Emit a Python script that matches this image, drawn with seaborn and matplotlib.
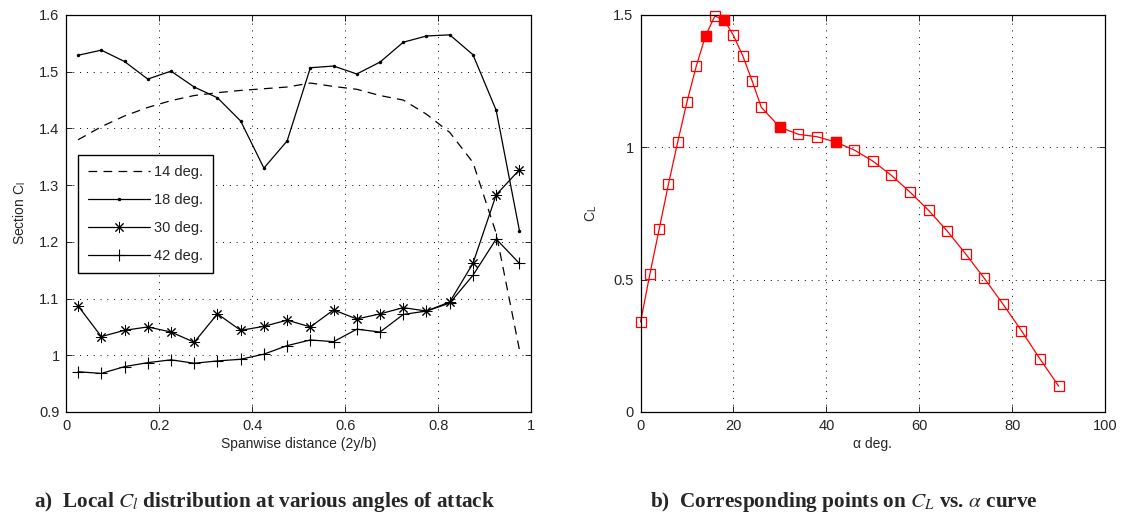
import matplotlib
matplotlib.use("Agg")
import matplotlib.pyplot as plt
import pandas as pd
import seaborn as sns

# ── data ────────────────────────────────────────────────────────────────
span = [0.025, 0.075, 0.125, 0.175, 0.225, 0.275, 0.325, 0.375, 0.425, 0.475,
        0.525, 0.575, 0.625, 0.675, 0.725, 0.775, 0.825, 0.875, 0.925, 0.975]

cl_14 = [1.380, 1.403, 1.422, 1.437, 1.449, 1.458, 1.463, 1.467, 1.470, 1.473,
         1.480, 1.474, 1.469, 1.458, 1.450, 1.425, 1.393, 1.340, 1.215, 1.010]
cl_18 = [1.529, 1.538, 1.518, 1.487, 1.501, 1.473, 1.454, 1.413, 1.330, 1.378,
         1.507, 1.510, 1.496, 1.517, 1.552, 1.563, 1.565, 1.530, 1.432, 1.220]
cl_30 = [1.087, 1.033, 1.044, 1.050, 1.041, 1.023, 1.073, 1.044, 1.051, 1.062,
         1.050, 1.080, 1.064, 1.073, 1.084, 1.078, 1.094, 1.162, 1.283, 1.327]
cl_42 = [0.971, 0.968, 0.980, 0.987, 0.992, 0.986, 0.990, 0.993, 1.002, 1.017,
         1.027, 1.024, 1.046, 1.041, 1.072, 1.078, 1.092, 1.141, 1.205, 1.162]

alpha = [0, 2, 4, 6, 8, 10, 12, 14, 16, 18, 20, 22, 24, 26, 30, 34, 38, 42,
         46, 50, 54, 58, 62, 66, 70, 74, 78, 82, 86, 90]
cl_curve = [0.34, 0.52, 0.69, 0.86, 1.02, 1.172, 1.307, 1.422, 1.496, 1.481,
            1.423, 1.346, 1.252, 1.151, 1.076, 1.049, 1.040, 1.020, 0.990, 0.948,
            0.894, 0.831, 0.762, 0.684, 0.597, 0.505, 0.408, 0.307, 0.200, 0.098]

picked_alpha = [14, 18, 30, 42]
picked_cl = [1.422, 1.481, 1.076, 1.020]

x_ticks_a = [0, 0.2, 0.4, 0.6, 0.8, 1]
y_ticks_a = [0.9, 1.0, 1.1, 1.2, 1.3, 1.4, 1.5, 1.6]
y_labels_a = ["0.9", "1", "1.1", "1.2", "1.3", "1.4", "1.5", "1.6"]
x_ticks_b = [0, 20, 40, 60, 80, 100]
y_ticks_b = [0, 0.5, 1, 1.5]
y_labels_b = ["0", "0.5", "1", "1.5"]

# ── style ───────────────────────────────────────────────────────────────
sns.set_style("ticks")
plt.rcParams["font.family"] = ["Liberation Sans", "DejaVu Sans"]
plt.rcParams["mathtext.fontset"] = "stix"
plt.rcParams["xtick.direction"] = "in"
plt.rcParams["ytick.direction"] = "in"
plt.rcParams["axes.linewidth"] = 0.9

GRID = dict(color="black", linestyle=(0, (1, 6)), linewidth=0.7)

fig = plt.figure(figsize=(11.21, 5.17), dpi=100)
ax1 = fig.add_axes([0.0593, 0.2031, 0.4144, 0.7679])
ax2 = fig.add_axes([0.5714, 0.2031, 0.4144, 0.7679])

# ── a) section Cl along span ──
lw = 0.9
sns.lineplot(x=span, y=cl_14, ax=ax1, color="black", lw=lw,
             linestyle=(0, (7, 5)), label="14 deg.", errorbar=None)
sns.lineplot(x=span, y=cl_18, ax=ax1, color="black", lw=lw, marker="o",
             markersize=2.5, markeredgewidth=0, label="18 deg.", errorbar=None)
sns.lineplot(x=span, y=cl_30, ax=ax1, color="black", lw=lw, marker=(8, 2, 0),
             markersize=8, markeredgewidth=0.7, markeredgecolor="black",
             label="30 deg.", errorbar=None)
sns.lineplot(x=span, y=cl_42, ax=ax1, color="black", lw=lw, marker="+",
             markersize=9, markeredgewidth=0.8, markeredgecolor="black",
             label="42 deg.", errorbar=None)

ax1.set_xlim(0, 1)
ax1.set_ylim(0.9, 1.6)
ax1.set_xticks(x_ticks_a)
ax1.set_xticklabels(["0", "0.2", "0.4", "0.6", "0.8", "1"])
ax1.set_yticks(y_ticks_a)
ax1.set_yticklabels(y_labels_a)
ax1.set_xlabel("Spanwise distance (2y/b)", fontsize=10, labelpad=3)
ax1.set_ylabel(r"Section C$_\mathregular{l}$", fontsize=10, labelpad=8)
ax1.grid(True, **GRID)

leg = ax1.legend(loc="upper left", bbox_to_anchor=(0.025, 0.647), borderaxespad=0,
                 fontsize=10.5, handlelength=4.2, labelspacing=0.95,
                 fancybox=False, edgecolor="black", framealpha=1,
                 borderpad=0.7, handletextpad=0.3)
leg.get_frame().set_linewidth(1.0)

# ── b) CL vs alpha ──
red = "#ff0000"
sns.lineplot(x=alpha, y=cl_curve, ax=ax2, color=red, lw=0.9, marker="s",
             markersize=7, markerfacecolor="none", markeredgecolor=red,
             markeredgewidth=0.9, errorbar=None, clip_on=False)
sns.scatterplot(x=picked_alpha, y=picked_cl, ax=ax2, marker="s", s=55,
                color=red, edgecolor=red, linewidth=0.9, zorder=5, clip_on=False)

ax2.set_xlim(0, 100)
ax2.set_ylim(0, 1.5)
ax2.set_xticks(x_ticks_b)
ax2.set_yticks(y_ticks_b)
ax2.set_yticklabels(y_labels_b)
ax2.set_xlabel("α deg.", fontsize=10, labelpad=3)
ax2.set_ylabel(r"C$_\mathregular{L}$", fontsize=10, labelpad=10)
ax2.grid(True, **GRID)

for ax in (ax1, ax2):
    ax.tick_params(which="both", top=True, right=True, length=4, width=0.7,
                   labelsize=10.5, pad=5)
    for s in ax.spines.values():
        s.set_visible(True)
        s.set_color("black")

# ── captions ──
cap = dict(fontsize=15.3, fontweight="bold", ha="center", va="center",
           family=["Liberation Serif", "DejaVu Serif"])
fig.text(264 / 1121, 1 - 502 / 517,
         r"a)  Local $C_l$ distribution at various angles of attack", **cap)
fig.text(844 / 1121, 1 - 502 / 517,
         r"b)  Corresponding points on $C_L$ vs. $\alpha$ curve", **cap)

fig.savefig("out.png", dpi=100)
